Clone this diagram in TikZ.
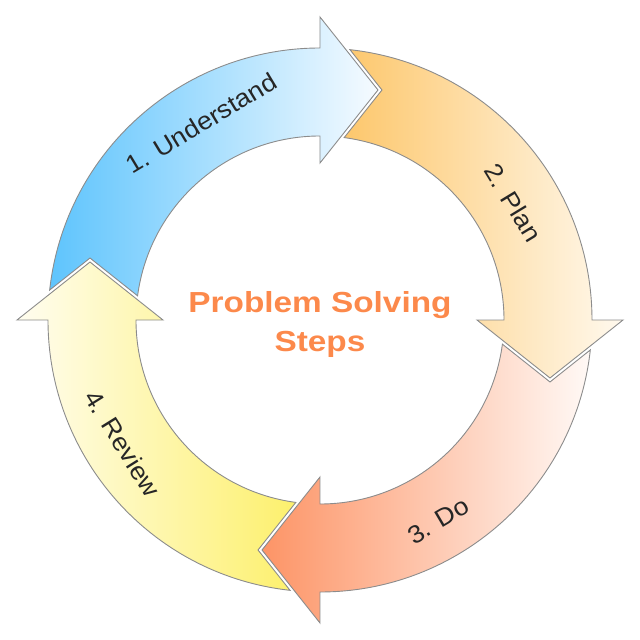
\documentclass[tikz,border=0pt]{standalone}
\usepackage{fontspec}
\setmainfont{Liberation Sans}
\definecolor{blueL}{RGB}{94,196,253}
\definecolor{blueR}{RGB}{246,251,255}
\definecolor{orangeL}{RGB}{253,199,108}
\definecolor{orangeR}{RGB}{255,249,238}
\definecolor{doL}{RGB}{253,148,102}
\definecolor{doR}{RGB}{255,249,246}
\definecolor{yellowL}{RGB}{255,253,240}
\definecolor{yellowR}{RGB}{253,240,108}
\definecolor{edgegray}{RGB}{140,140,140}
\definecolor{titleorange}{RGB}{252,137,75}
\definecolor{labeltext}{RGB}{38,38,38}
\begin{document}
\begin{tikzpicture}[stepfill/.style = {draw=edgegray, line width=0.9pt, line join=miter},
    steplabel/.style = {inner sep=0pt, text=labeltext, font=\fontsize{25}{30}\selectfont}]
    \useasboundingbox (-320pt,-320pt) rectangle (320pt,320pt);
    % four curved arrows, clockwise
    \path[stepfill, left color=blueL, right color=blueR] (173.68:272pt) arc[start angle=173.68, end angle=90, radius=272pt] -- (90:303pt) -- (75.85:237.2pt) -- (90:157pt) -- (90:184pt) arc[start angle=90, end angle=172.45, radius=184pt] -- (164.92:238.21pt) -- cycle;
    \path[stepfill, left color=orangeL, right color=orangeR] (83.68:272pt) arc[start angle=83.68, end angle=0, radius=272pt] -- (0:303pt) -- (-14.15:237.2pt) -- (0:157pt) -- (0:184pt) arc[start angle=0, end angle=82.45, radius=184pt] -- (74.92:238.21pt) -- cycle;
    \path[stepfill, left color=doL, right color=doR] (-6.32:272pt) arc[start angle=-6.32, end angle=-90, radius=272pt] -- (-90:303pt) -- (-104.15:237.2pt) -- (-90:157pt) -- (-90:184pt) arc[start angle=-90, end angle=-7.55, radius=184pt] -- (-15.08:238.21pt) -- cycle;
    \path[stepfill, left color=yellowL, right color=yellowR] (-96.32:272pt) arc[start angle=-96.32, end angle=-180, radius=272pt] -- (-180:303pt) -- (-194.15:237.2pt) -- (-180:157pt) -- (-180:184pt) arc[start angle=-180, end angle=-97.55, radius=184pt] -- (-105.08:238.21pt) -- cycle;
    % labels
    \node[steplabel, rotate=31.1] (1) at (121.1:230pt) {\scalebox{1.07}[1]{1. Understand}};
    \node[steplabel, rotate=-58.7] (2) at (31.3:226pt) {\scalebox{1.07}[1]{2. Plan}};
    \node[steplabel, rotate=30.5] (3) at (-59.5:233pt) {\scalebox{1.07}[1]{3. Do}};
    \node[steplabel, rotate=-58] (4) at (212:233pt) {\scalebox{1.07}[1]{4. Review}};
    \node[inner sep=0pt, align=center, text=titleorange, font=\fontsize{29}{39}\selectfont\bfseries] (0) at (0,-5pt) {\scalebox{1.15}[1]{Problem Solving}\\\scalebox{1.15}[1]{Steps}};
\end{tikzpicture}
\end{document}
